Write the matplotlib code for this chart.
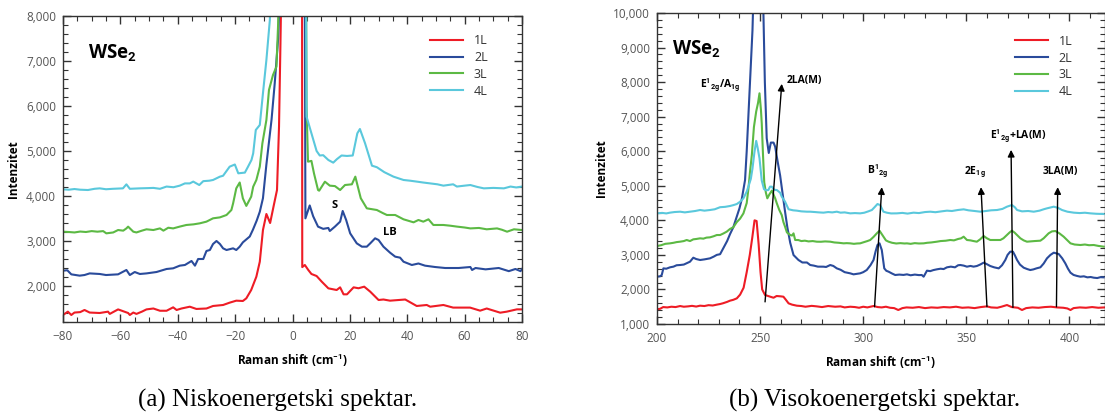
import matplotlib.pyplot as plt
from matplotlib.ticker import MultipleLocator, FuncFormatter

# Fontovi
plt.rcParams['font.family'] = ['Open Sans', 'DejaVu Sans']
plt.rcParams['mathtext.fontset'] = 'custom'
plt.rcParams['mathtext.rm'] = 'Open Sans'
plt.rcParams['mathtext.bf'] = 'Roboto:bold'
plt.rcParams['mathtext.it'] = 'Open Sans:italic'

labels = ['1L', '2L', '3L', '4L']
colors = ['#ee1c25', '#2a4b9b', '#5cb944', '#5ac8dc']

# Niskoenergetski spektar (x, intenzitet)
lo_1L = [(-80, 1356), (-78.3, 1430), (-77.1, 1356), (-76, 1410), (-74, 1420), (-72.5, 1467), (-70.7, 1410),
         (-67.2, 1400), (-64.3, 1430), (-63.7, 1380), (-60.8, 1480), (-57.3, 1400), (-56.7, 1356), (-55.5, 1410),
         (-54.4, 1380), (-52.5, 1430), (-50.9, 1480), (-48.5, 1500), (-46.2, 1450), (-43.9, 1450), (-41.6, 1526),
         (-40.4, 1467), (-38.7, 1500), (-35.8, 1540), (-33.5, 1490), (-30, 1500), (-27.7, 1556), (-24.2, 1578),
         (-21.9, 1630), (-19.6, 1674), (-17.3, 1667), (-16.1, 1726), (-14.4, 1911), (-12.6, 2207), (-11.4, 2540),
         (-10.3, 3244), (-9.1, 3600), (-7.8, 3400), (-6.5, 3800), (-5.4, 4133), (-4.7, 5541), (-4.2, 7393),
         (-3.8, 9000), (-3.0, 20000), (0, 30000), (3.1, 30000), (3.4, 2420), (4.3, 2467), (5.5, 2356),
         (6.6, 2267), (8.4, 2222), (10.2, 2096), (12.5, 1948), (15.4, 1911), (16.6, 1970), (17.8, 1815),
         (19, 1815), (21.3, 1970), (23, 1950), (25, 1985), (27.1, 1874), (30, 1689), (31.7, 1700), (34, 1674),
         (39.3, 1700), (43.3, 1556), (46.8, 1578), (48, 1540), (52.6, 1578), (56, 1520), (61.9, 1520),
         (65.4, 1452), (67.7, 1500), (72.4, 1407), (74.7, 1430), (78.2, 1481), (80, 1480)]
lo_2L = [(-80, 2341), (-78.5, 2350), (-77.1, 2259), (-74.2, 2230), (-72.5, 2244), (-70.7, 2280), (-67.2, 2267),
         (-65, 2244), (-60.8, 2259), (-57.9, 2356), (-56.7, 2244), (-55, 2311), (-53.2, 2267), (-50.9, 2280),
         (-47.4, 2311), (-43.9, 2378), (-41.6, 2393), (-39.3, 2452), (-37.5, 2467), (-35.2, 2556), (-34, 2452),
         (-32.9, 2600), (-31.1, 2600), (-30, 2778), (-28.8, 2800), (-27.7, 2933), (-26.5, 3000), (-25.3, 2933),
         (-24.2, 2837), (-23, 2800), (-20.7, 2837), (-19.6, 2800), (-18.4, 2874), (-17.3, 2970), (-14.9, 3100),
         (-13.8, 3250), (-12.5, 3450), (-11.4, 3650), (-10.3, 3950), (-9.1, 4700), (-7.3, 5700), (-6.2, 6500),
         (-5.0, 7500), (-4.2, 9000), (-3.5, 20000), (0, 30000), (3.8, 20000), (4.5, 3504), (6.0, 3790),
         (7.2, 3550), (8.9, 3319), (10.7, 3270), (12.5, 3290), (13, 3222), (14.8, 3320), (16.6, 3430),
         (17.5, 3667), (18.7, 3467), (20.1, 3170), (22.4, 2948), (24.2, 2874), (25.9, 2874), (27.1, 2948),
         (28.8, 3060), (30, 3022), (31.7, 2874), (34, 2741), (35.8, 2652), (37.5, 2630), (38.7, 2540),
         (41.6, 2467), (43.9, 2500), (46.2, 2452), (49.7, 2422), (53.2, 2400), (57.9, 2400), (62, 2422),
         (62.6, 2356), (63.8, 2400), (67.3, 2370), (71.9, 2400), (75.4, 2330), (77.7, 2378), (79.5, 2330),
         (80, 2378)]
lo_3L = [(-80, 3207), (-78, 3200), (-76, 3190), (-74, 3210), (-72, 3200), (-70, 3220), (-68, 3207), (-66, 3220),
         (-64.9, 3170), (-62.5, 3190), (-60.8, 3244), (-59, 3230), (-57.9, 3280), (-57.3, 3319), (-55.5, 3207),
         (-54.4, 3190), (-52.5, 3230), (-50.9, 3260), (-48.5, 3244), (-46.2, 3280), (-45, 3230), (-43.3, 3295),
         (-41.6, 3280), (-39.3, 3320), (-37, 3356), (-34.5, 3370), (-32.3, 3393), (-30, 3430), (-27.7, 3504),
         (-25.3, 3525), (-23, 3578), (-21.3, 3689), (-20.7, 3837), (-19.6, 4170), (-18.4, 4300), (-17.3, 3948),
         (-16.1, 3780), (-14.4, 3985), (-13.7, 4207), (-12.6, 4356), (-11.4, 4652), (-10.5, 5170), (-9.1, 5689),
         (-8.2, 6356), (-6.8, 6689), (-5.6, 6874), (-5.0, 7837), (-4.5, 9000), (-3.5, 20000), (0, 30000),
         (4.0, 20000), (4.9, 6000), (5.4, 4763), (6.6, 4780), (7.5, 4500), (8.9, 4133), (9.3, 4118),
         (11.3, 4318), (13, 4230), (14.8, 4220), (16.6, 4133), (18.3, 4244), (20.7, 4260), (21.9, 4430),
         (23, 4150), (23.8, 3950), (25.9, 3726), (29.4, 3689), (31.5, 3620), (32.9, 3578), (35.8, 3578),
         (38.7, 3482), (42.2, 3415), (43.9, 3467), (45.6, 3430), (47.4, 3482), (49.1, 3356), (52.6, 3356),
         (55, 3340), (57.3, 3320), (60, 3300), (62, 3280), (65, 3290), (67.7, 3260), (71.3, 3280), (73, 3250),
         (74.8, 3207), (77.2, 3260), (80, 3244)]
lo_4L = [(-80, 4148), (-78, 4140), (-76, 4155), (-74, 4140), (-71.3, 4133), (-69, 4160), (-67.2, 4170),
         (-65, 4150), (-62.6, 4160), (-59.1, 4170), (-57.9, 4259), (-56.7, 4160), (-55, 4165), (-53.2, 4170),
         (-50.5, 4175), (-48.5, 4180), (-46.2, 4160), (-43.9, 4210), (-41.5, 4195), (-39.3, 4230), (-37.5, 4280),
         (-35.8, 4280), (-34.6, 4320), (-32.5, 4244), (-31.1, 4330), (-29, 4340), (-27.7, 4356), (-25.3, 4430),
         (-24.2, 4450), (-21.9, 4652), (-20.1, 4700), (-18.9, 4504), (-16.6, 4520), (-15.5, 4652), (-14.3, 4800),
         (-13.7, 4948), (-12.8, 5467), (-11.4, 5578), (-10.3, 6282), (-9.1, 7022), (-7.9, 7911), (-7.3, 9000),
         (-6, 20000), (0, 30000), (4.0, 20000), (4.9, 5763), (6.6, 5393), (8.4, 5000), (9.5, 4900),
         (10.7, 4907), (12.5, 4800), (14.2, 4741), (15.5, 4820), (17.1, 4900), (19, 4890), (21, 4900),
         (22.6, 5393), (23.5, 5489), (25.3, 5170), (27.7, 4674), (29.4, 4640), (32, 4530), (35.2, 4430),
         (38.7, 4356), (41, 4340), (43.3, 4320), (45.5, 4300), (48, 4280), (50.5, 4260), (52.6, 4230),
         (56, 4260), (57.3, 4210), (60, 4230), (62, 4244), (64.5, 4200), (66.7, 4170), (70, 4180),
         (73.7, 4170), (76, 4210), (78, 4190), (80, 4210)]

# Visokoenergetski spektar (x, intenzitet)
hi_1L = [(200, 1425), (201.5, 1440), (203, 1490), (205, 1480), (207, 1500), (209, 1490), (211.2, 1520),
         (213, 1500), (215, 1510), (217, 1525), (219, 1505), (220.9, 1530), (223, 1520), (225, 1545),
         (227, 1535), (229, 1560), (230.6, 1578), (232, 1600), (234, 1640), (235.4, 1675), (237, 1700),
         (238.7, 1742), (240.3, 1850), (242, 2050), (243.5, 2500), (245, 3000), (246.2, 3500), (247.3, 4000),
         (248.3, 3980), (249.3, 3300), (250.2, 2500), (251, 2000), (252.4, 1839), (254.9, 1790), (256.5, 1760),
         (258, 1810), (260, 1800), (261.3, 1790), (262.5, 1700), (263.8, 1598), (265.5, 1560), (267.8, 1530),
         (270, 1520), (272, 1500), (275, 1525), (277.5, 1510), (280, 1490), (283, 1520), (286.4, 1500),
         (289, 1510), (291, 1480), (293.7, 1500), (296, 1490), (298, 1470), (300, 1500), (302, 1480),
         (305, 1520), (307, 1490), (309, 1480), (311, 1500), (313, 1470), (315, 1460), (317, 1405),
         (319, 1460), (321, 1480), (324, 1470), (327, 1490), (330, 1460), (333, 1480), (336, 1470),
         (339, 1490), (342, 1480), (345, 1500), (348, 1470), (351, 1480), (354, 1460), (357, 1490),
         (360, 1510), (362, 1480), (365, 1470), (367, 1500), (369.7, 1549), (372, 1490), (375, 1470),
         (377, 1405), (379, 1460), (382, 1480), (385, 1470), (388, 1490), (391, 1500), (394, 1480),
         (397, 1470), (399, 1450), (400.5, 1405), (402, 1460), (405, 1480), (408, 1470), (411, 1490),
         (414, 1470), (417, 1480)]
hi_2L = [(200, 2369), (201.5, 2380), (202.3, 2418), (203.1, 2610), (204.5, 2600), (206.3, 2640), (208, 2660),
         (209.5, 2700), (211.2, 2707), (213, 2720), (214.5, 2760), (216, 2803), (217.6, 2919), (219, 2880),
         (220.9, 2852), (223, 2870), (225.7, 2900), (227.5, 2950), (229, 3000), (230.6, 3020), (232.2, 3200),
         (234, 3400), (235.4, 3600), (237, 3800), (238.7, 4106), (240, 4350), (241.1, 4610), (242.7, 5167),
         (243.5, 6000), (244.3, 7000), (245.1, 8000), (246.3, 9500), (247, 11000), (248.5, 13000),
         (250, 13000), (251, 11500), (251.6, 10000), (252.3, 8000), (253.2, 6374), (254.2, 5950),
         (255.2, 6250), (256.5, 6250), (257.3, 6131), (258.5, 5700), (259.7, 5300), (261.3, 4588),
         (262.1, 4250), (263.2, 3800), (264.6, 3350), (266.2, 2996), (267.8, 2900), (268.6, 2852),
         (270.5, 2780), (272.7, 2780), (274.3, 2707), (276, 2690), (278, 2660), (280.7, 2659), (282, 2650),
         (284, 2707), (285.5, 2680), (287.2, 2610), (289, 2570), (291, 2500), (293.7, 2466), (295.3, 2437),
         (296.8, 2450), (298.5, 2466), (300, 2500), (301.7, 2562), (303.5, 2700), (305, 2852), (306, 3100),
         (306.9, 3286), (307.9, 3334), (309, 3141), (310.2, 2610), (311.2, 2540), (312.3, 2514), (314, 2460),
         (315.5, 2418), (317.5, 2430), (319.5, 2420), (321.2, 2437), (323, 2410), (325, 2430), (327, 2415),
         (328.4, 2418), (329.3, 2369), (330.9, 2543), (332.5, 2530), (334, 2560), (335.7, 2582), (337.5, 2600),
         (339, 2590), (340.6, 2640), (342.5, 2660), (344.5, 2640), (346, 2700), (347.1, 2707), (348.7, 2690),
         (350.3, 2659), (352, 2680), (353.5, 2660), (355.1, 2678), (356.7, 2720), (358.4, 2775), (360, 2730),
         (361.6, 2678), (363.5, 2640), (365.7, 2610), (367.3, 2700), (368.9, 2852), (370, 3000), (371.3, 3093),
         (372.6, 3093), (373.6, 2980), (374.6, 2852), (376, 2720), (377.8, 2630), (379.5, 2590), (381, 2562),
         (382.5, 2580), (384, 2610), (385.9, 2640), (387.5, 2750), (389.1, 2900), (390.8, 3000), (392.4, 3064),
         (394.8, 3025), (396.5, 2900), (398, 2755), (399.3, 2600), (400.5, 2485), (402, 2420), (403.7, 2390),
         (405.3, 2369), (407, 2380), (408.7, 2350), (410.3, 2360), (411.8, 2340), (413.5, 2330), (415, 2355),
         (416.6, 2350)]
hi_3L = [(200, 3257), (202, 3280), (204, 3320), (206.3, 3334), (208, 3350), (209.5, 3370), (211.2, 3382),
         (213, 3400), (214.4, 3431), (216, 3400), (217.6, 3450), (219, 3460), (220.9, 3479), (222.5, 3470),
         (224, 3500), (225.7, 3508), (227.5, 3540), (229, 3575), (230.6, 3575), (232.2, 3620), (233.8, 3672),
         (235.4, 3750), (237, 3800), (238.7, 3950), (240.3, 4050), (241.9, 4200), (242.7, 4350), (243.5, 4500),
         (244.3, 4900), (245.1, 5400), (246, 5900), (247, 6700), (248.1, 7150), (249, 7400), (249.7, 7676),
         (250.4, 7200), (250.8, 6800), (251.4, 5900), (252, 5100), (252.8, 4800), (253.5, 4637), (254.5, 4750),
         (255.7, 4860), (256.5, 4750), (257.3, 4637), (258.1, 4492), (259.3, 4300), (260.5, 4150), (261.3, 3950),
         (262.1, 3816), (263, 3650), (264.6, 3575), (265.5, 3560), (266.2, 3623), (267, 3431), (268.5, 3430),
         (270, 3400), (271.7, 3411), (273.5, 3390), (275.5, 3400), (277.5, 3382), (279.5, 3380), (281.5, 3390),
         (284, 3382), (286, 3360), (288.2, 3350), (290.5, 3334), (292, 3340), (293.7, 3334), (295.5, 3320),
         (297, 3330), (298.5, 3334), (300.5, 3370), (302, 3400), (303.4, 3431), (305, 3520), (306.6, 3624),
         (307.9, 3700), (309, 3600), (309.8, 3527), (311, 3420), (312.3, 3382), (314, 3350), (316, 3330),
         (318, 3340), (320, 3330), (321.2, 3334), (323, 3320), (325, 3340), (327, 3330), (329.3, 3334),
         (331, 3350), (333, 3360), (335.7, 3382), (337.5, 3400), (340, 3410), (342.2, 3431), (344, 3420),
         (346, 3460), (347.5, 3480), (348.7, 3527), (350.3, 3431), (352, 3420), (353.5, 3400), (355.1, 3382),
         (356.7, 3450), (358.4, 3546), (360, 3480), (361.6, 3431), (363.5, 3430), (366.5, 3431), (368, 3480),
         (369.7, 3575), (371, 3650), (372.1, 3700), (373.3, 3650), (374.6, 3575), (376.2, 3480), (377.8, 3420),
         (379.4, 3382), (381, 3390), (383, 3400), (385.9, 3411), (387.5, 3480), (389.9, 3624), (391.5, 3680),
         (393.2, 3691), (395.2, 3620), (397.2, 3527), (399, 3420), (400.5, 3334), (402.5, 3300), (405.3, 3286),
         (407.5, 3300), (409.5, 3280), (411.8, 3286), (414, 3260), (416.6, 3238)]
hi_4L = [(200, 4202), (202.5, 4215), (204.5, 4200), (206.3, 4222), (208.5, 4240), (211.2, 4250), (213.5, 4230),
         (216, 4250), (218.5, 4270), (220.9, 4299), (223, 4280), (225.7, 4299), (228, 4320), (230.6, 4380),
         (233, 4390), (235.4, 4415), (237, 4440), (238.7, 4472), (240.3, 4540), (241.9, 4636), (243.5, 4830),
         (244.3, 4974), (245.5, 5200), (246.3, 5500), (247.2, 5950), (248.1, 6300), (248.8, 6100), (249.7, 5795),
         (250.8, 5150), (251.9, 4900), (253, 4870), (254, 4877), (254.8, 4974), (255.7, 4974), (256.5, 4900),
         (257.3, 4880), (258.1, 4877), (259.7, 4800), (260.5, 4684), (262.1, 4540), (263.8, 4320), (266, 4290),
         (267.8, 4280), (270, 4260), (272.7, 4250), (274.3, 4250), (276.5, 4240), (278.5, 4230), (280.7, 4222),
         (283, 4240), (285, 4230), (287.2, 4250), (289, 4222), (291, 4230), (293.7, 4202), (296, 4210),
         (298.5, 4202), (300.5, 4220), (302.5, 4260), (304.2, 4299), (305.5, 4380), (306.9, 4472), (308.2, 4443),
         (309.8, 4250), (311.5, 4220), (313.5, 4200), (316.3, 4202), (319, 4215), (321.5, 4195), (324.4, 4222),
         (327, 4210), (330, 4240), (332.5, 4250), (335, 4235), (338, 4260), (340.6, 4280), (343, 4270),
         (346, 4300), (348.7, 4318), (351, 4290), (354, 4270), (356.8, 4250), (359.5, 4270), (362, 4290),
         (364.9, 4299), (367.5, 4330), (369.7, 4395), (372.1, 4443), (373.5, 4380), (374.6, 4299), (377, 4260),
         (380, 4270), (382.7, 4250), (385.5, 4280), (387.5, 4320), (389.1, 4347), (392.4, 4395), (394.5, 4360),
         (396.4, 4299), (399, 4250), (402.1, 4222), (405, 4210), (407.5, 4220), (410.2, 4202), (413, 4190),
         (416.6, 4183)]

lo_series = [lo_1L, lo_2L, lo_3L, lo_4L]
hi_series = [hi_1L, hi_2L, hi_3L, hi_4L]

# Strelice za modove: (tekst, x teksta, y teksta, pocetak strelice, vrh strelice)
peak_texts = ['E$^{\\mathbf{1}}$$_{\\mathbf{2g}}$/A$_{\\mathbf{1g}}$', '2LA(M)', 'B$^{\\mathbf{1}}$$_{\\mathbf{2g}}$',
              '2E$_{\\mathbf{1g}}$', 'E$^{\\mathbf{1}}$$_{\\mathbf{2g}}$+LA(M)', '3LA(M)']
peak_text_pos = [(230.5, 7900), (271.5, 8060), (307, 5400), (354, 5380), (375, 6420), (395.5, 5400)]
arrow_start = [None, (252.4, 1640), (305.5, 1500), (360, 1500), (372.6, 1480), (393.7, 1500)]
arrow_end = [None, (260.5, 7950), (309, 4960), (357.1, 4960), (371.7, 6040), (394.3, 4960)]


def fmt_thousands(v, pos):
    return f'{int(round(v)):,}'


def style_axes(ax, xmajor, xminor):
    ax.xaxis.set_major_locator(MultipleLocator(xmajor))
    ax.xaxis.set_minor_locator(MultipleLocator(xminor))
    ax.yaxis.set_major_locator(MultipleLocator(1000))
    ax.yaxis.set_minor_locator(MultipleLocator(200))
    ax.yaxis.set_major_formatter(FuncFormatter(fmt_thousands))
    ax.tick_params(which='both', direction='in', top=True, right=True, color='#333333', labelcolor='#555555',
                   labelsize=8.5)
    ax.tick_params(which='major', length=6, width=1)
    ax.tick_params(which='minor', length=3.5, width=0.8)
    ax.tick_params(axis='x', pad=6)
    ax.tick_params(axis='y', pad=5)
    for s in ax.spines.values():
        s.set_color('#333333')
        s.set_linewidth(1)
    ax.set_xlabel('Raman shift (cm$^{\\mathbf{-1}}$)', fontsize=8.5, fontweight='bold', labelpad=6)
    ax.set_ylabel('Intenzitet', fontsize=8.5, fontweight='bold', labelpad=4)


fig = plt.figure(figsize=(11.05, 4.17), dpi=100)
ax1 = fig.add_axes([63 / 1105, 95 / 417, 459 / 1105, 306 / 417])
ax2 = fig.add_axes([657 / 1105, 93 / 417, 447.5 / 1105, 311 / 417])

# (a) niskoenergetski
for data, lab, c in zip(lo_series, labels, colors):
    x, y = zip(*data)
    ax1.plot(x, y, color=c, lw=1.5, label=lab)
ax1.set_xlim(-80, 80)
ax1.set_ylim(1200, 8000)
style_axes(ax1, 20, 5)
ax1.text(0.054, 0.882, 'WSe$_\\mathbf{2}$', transform=ax1.transAxes, fontsize=13.5, fontweight='bold',
         va='center', ha='left')
ax1.text(14.8, 3800, 'S', fontsize=8, fontweight='bold', ha='center', va='center')
ax1.text(33.9, 3180, 'LB', fontsize=8, fontweight='bold', ha='center', va='center')
ax1.legend(loc='upper left', bbox_to_anchor=(0.80, 0.94), frameon=False, fontsize=9, handlelength=2.6,
           handletextpad=0.9, labelspacing=0.3, borderpad=0, borderaxespad=0, labelcolor='#333333')

# (b) visokoenergetski
for data, lab, c in zip(hi_series, labels, colors):
    x, y = zip(*data)
    ax2.plot(x, y, color=c, lw=1.5, label=lab)
ax2.set_xlim(200, 417)
ax2.set_ylim(1000, 10000)
style_axes(ax2, 50, 10)
ax2.text(0.034, 0.887, 'WSe$_\\mathbf{2}$', transform=ax2.transAxes, fontsize=13.5, fontweight='bold',
         va='center', ha='left')
for txt, pos, a0, a1 in zip(peak_texts, peak_text_pos, arrow_start, arrow_end):
    ax2.text(pos[0], pos[1], txt, fontsize=7.5, fontweight='bold', ha='center', va='center')
    if a0 is not None:
        ax2.annotate('', xy=a1, xytext=a0,
                     arrowprops=dict(arrowstyle='-|>', color='black', lw=1, mutation_scale=10,
                                     shrinkA=0, shrinkB=0))
ax2.legend(loc='upper left', bbox_to_anchor=(0.80, 0.93), frameon=False, fontsize=9, handlelength=2.6,
           handletextpad=0.9, labelspacing=0.3, borderpad=0, borderaxespad=0, labelcolor='#333333')

# Potpisi
fig.text(278 / 1105, 1 - 400 / 417, '(a) Niskoenergetski spektar.', family='Liberation Serif', fontsize=18,
         ha='center', va='center')
fig.text(875 / 1105, 1 - 400 / 417, '(b) Visokoenergetski spektar.', family='Liberation Serif', fontsize=18,
         ha='center', va='center')

fig.savefig('out.png', dpi=100)
